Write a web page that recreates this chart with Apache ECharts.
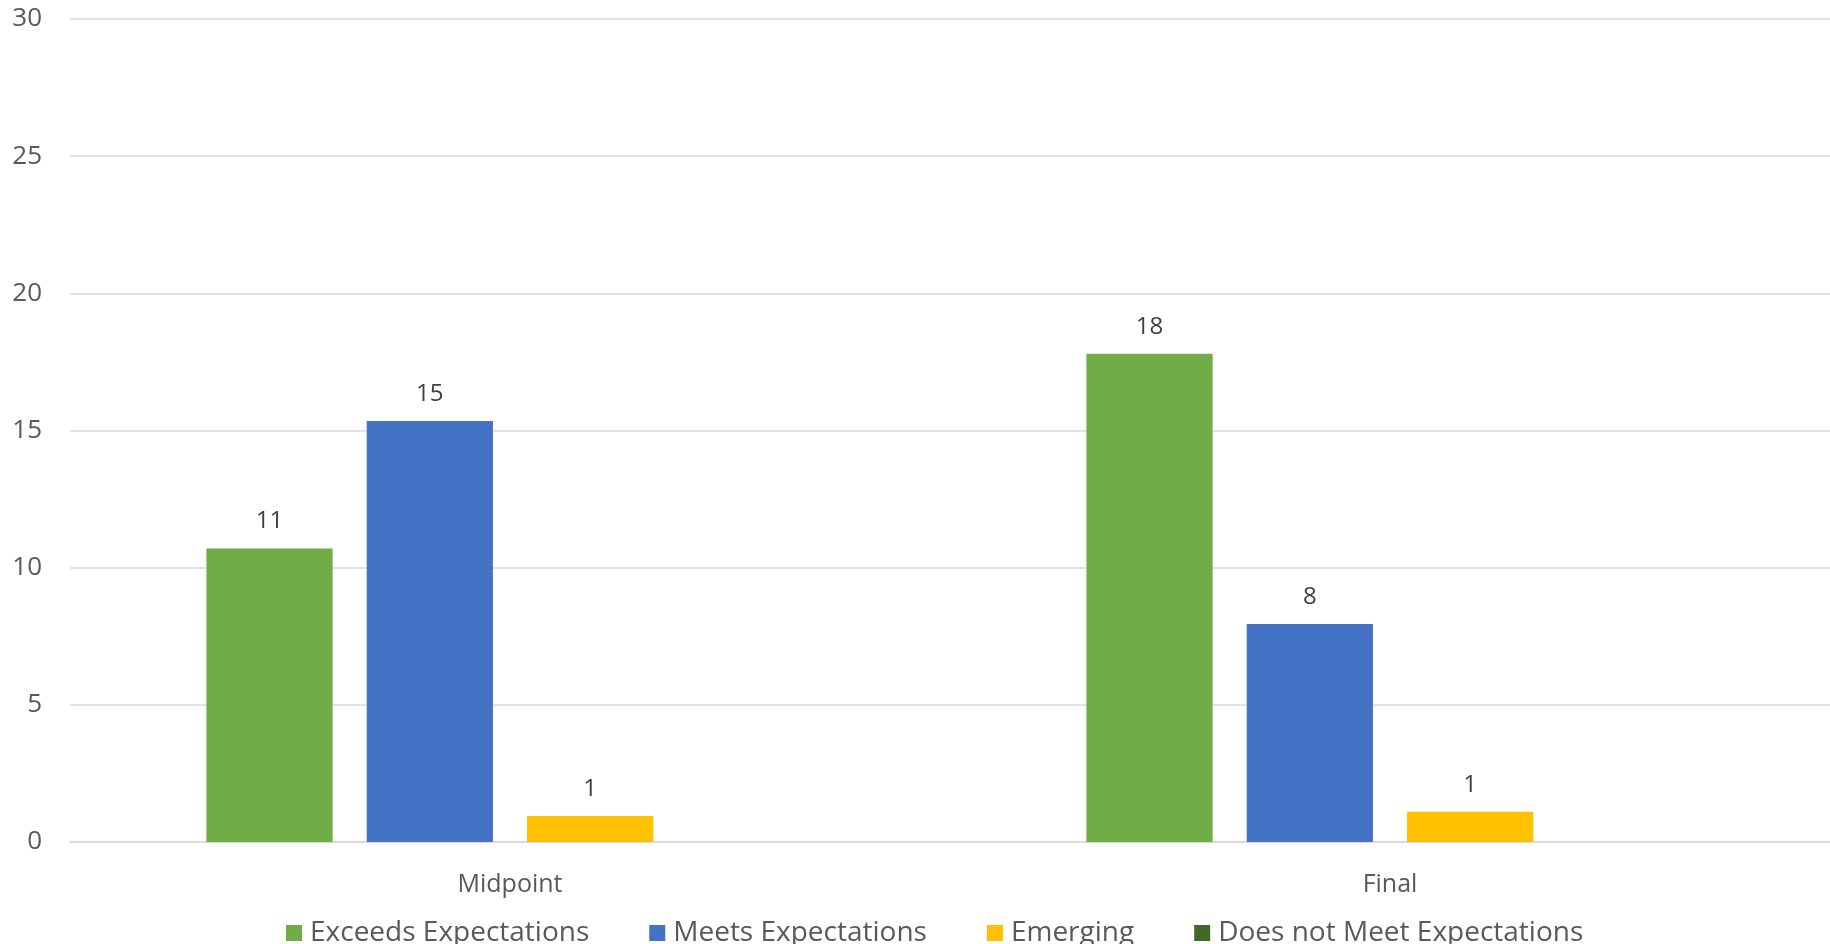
<!DOCTYPE html>
<html>
<head>
<meta charset="utf-8">
<script src="https://cdn.jsdelivr.net/npm/echarts@6/dist/echarts.min.js"></script>
<style>html,body{margin:0;padding:0;background:#fff}#c{width:1830px;height:944px}</style>
</head>
<body>
<div id="c"></div>
<script>
const categories = ['Midpoint', 'Final'];
const seriesNames = ['Exceeds Expectations', 'Meets Expectations', 'Emerging', 'Does not Meet Expectations'];
const exceeds = [10.7, 17.8];
const meets = [15.35, 7.95];
const emerging = [0.95, 1.1];
const doesNotMeet = [0, 0];
const yTicks = [0, 5, 10, 15, 20, 25, 30];

const colors = ['#70AD47', '#4472C4', '#FFC000', '#43682B'];
const font = '"Open Sans", "Noto Sans", sans-serif';
const dataSets = [exceeds, meets, emerging, doesNotMeet];

const chart = echarts.init(document.getElementById('c'));
chart.setOption({
  animation: false,
  color: colors,
  grid: { left: 70, right: 0, top: 19, bottom: 102, containLabel: false },
  legend: {
    data: seriesNames,
    left: 281,
    top: 914,
    itemWidth: 16,
    itemHeight: 16,
    itemGap: 60,
    icon: 'rect',
    textStyle: { color: '#595959', fontSize: 28, fontFamily: font, padding: [0, 0, 0, 3] }
  },
  xAxis: {
    type: 'category',
    data: categories,
    axisLine: { show: true, lineStyle: { color: '#D9D9D9', width: 1.5 } },
    axisTick: { show: false },
    axisLabel: { color: '#595959', fontSize: 25, fontFamily: font, margin: 30 }
  },
  yAxis: {
    type: 'value',
    min: yTicks[0],
    max: yTicks[yTicks.length - 1],
    interval: 5,
    axisLine: { show: false },
    axisTick: { show: false },
    splitLine: { lineStyle: { color: '#D9D9D9', width: 1.5 } },
    axisLabel: { color: '#595959', fontSize: 26, fontFamily: font, margin: 28 }
  },
  series: seriesNames.map((name, i) => ({
    name: name,
    type: 'bar',
    data: dataSets[i],
    barGap: '27%',
    barCategoryGap: '31%',
    itemStyle: { color: colors[i] },
    label: {
      show: true,
      position: 'top',
      distance: 15,
      color: '#404040',
      fontSize: 24,
      fontFamily: font,
      formatter: p => p.value === 0 ? '' : String(Math.round(p.value))
    }
  }))
});
</script>
</body>
</html>
